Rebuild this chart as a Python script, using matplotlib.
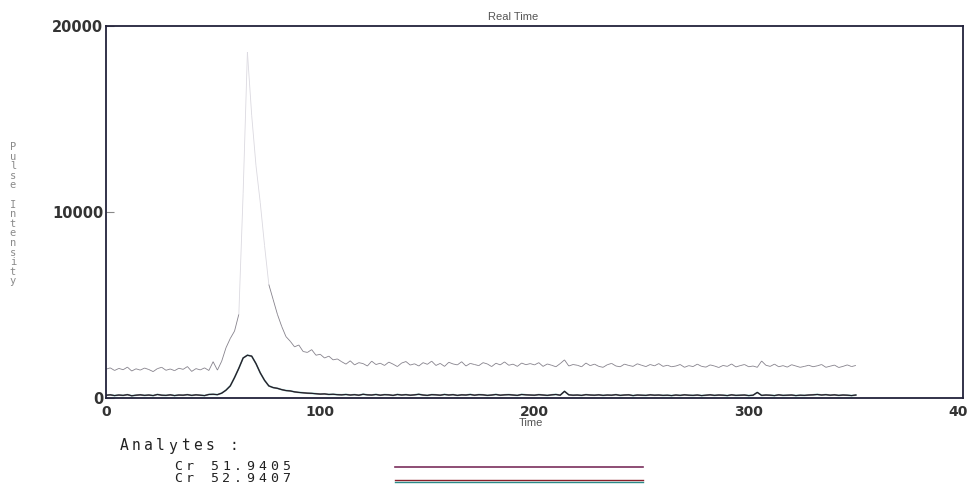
import numpy as np
import matplotlib.pyplot as plt
from matplotlib.collections import LineCollection

# Cr isotope transient signal, pulse counts sampled every 2 s (t = 0 .. 350)
time_step = 2

cr52_counts = [
    # 0 - 48 s, baseline
    1550, 1620, 1480, 1590, 1520, 1660, 1450, 1570, 1500, 1610, 1530, 1420, 1580,
    1650, 1490, 1560, 1470, 1600, 1540, 1690, 1430, 1580, 1510, 1620, 1480,
    # 50 - 108 s, peak and tail
    1950, 1500, 1980, 2700, 3200, 3600, 4500, 11000, 18600, 15200, 12500, 10500,
    8200, 6100, 5300, 4500, 3850, 3300, 3050, 2750, 2850, 2500, 2450, 2600, 2300,
    2350, 2150, 2250, 2050, 2100,
    # 110 - 198 s
    1950, 1820, 2000, 1780, 1900, 1850, 1720, 1980, 1800, 1870, 1750, 1930, 1820,
    1690, 1880, 1960, 1770, 1840, 1720, 1900, 1810, 1980, 1750, 1860, 1700, 1920,
    1830, 1780, 1950, 1720, 1860, 1800, 1740, 1900, 1830, 1690, 1870, 1780, 1940,
    1760, 1820, 1700, 1880, 1790, 1850,
    # 200 - 260 s
    1780, 1900, 1700, 1830, 1760, 1680, 1850, 2050, 1720, 1800, 1760, 1680, 1880,
    1740, 1820, 1700, 1650, 1790, 1860, 1720, 1680, 1820, 1750, 1700, 1840, 1760,
    1690, 1800, 1730, 1850, 1700,
    # 262 - 350 s
    1760, 1680, 1720, 1800, 1650, 1740, 1690, 1820, 1700, 1660, 1780, 1720, 1640,
    1750, 1700, 1830, 1670, 1740, 1800, 1680, 1720, 1650, 1990, 1760, 1700, 1820,
    1680, 1740, 1660, 1790, 1720, 1650, 1700, 1760, 1680, 1730, 1800, 1650, 1710,
    1770, 1640, 1700, 1780, 1690, 1750,
]

cr53_counts = [
    150, 170, 130, 160, 140, 180, 120, 150, 170, 140, 160, 130, 190, 150, 140, 170,
    130, 160, 150, 180, 140, 170, 150, 130, 190,
    200, 180, 260, 420, 650, 1100, 1600, 2150, 2300, 2250, 1850, 1350, 950, 650,
    560, 520, 450, 400, 380, 330, 300, 280, 260, 250, 230, 210, 220, 190, 200, 180,
    170, 190, 160, 180, 150, 200, 170, 160, 190, 150, 180, 170, 140, 190, 160, 180,
    150, 170, 200, 160, 140, 180, 170, 150, 190, 160, 180, 140, 170, 160, 190, 150,
    180, 170, 140, 160, 190, 150, 170, 180, 160, 140, 190, 170, 160,
    150, 180, 160, 140, 170, 190, 150, 360, 170, 150, 160, 140, 180, 160, 150, 170,
    140, 160, 150, 180, 140, 160, 170, 130, 160, 150, 140, 170, 150, 160, 140,
    150, 130, 160, 140, 170, 150, 140, 160, 130, 150, 170, 140, 160, 150, 130, 170,
    140, 150, 160, 130, 150, 300, 140, 160, 150, 130, 170, 140, 150, 160, 130, 150,
    140, 160, 170, 190, 160, 180, 150, 170, 140, 160, 150, 130, 160,
]

analytes = ["Cr 51.9405", "Cr 52.9407"]
x_ticks = [0, 100, 200, 300, 400]
y_ticks = [0, 10000, 20000]

t = time_step * np.arange(len(cr52_counts))

W, H = 968, 487
fig = plt.figure(figsize=(W / 100, H / 100), dpi=100)
ax = fig.add_axes([106 / W, 1 - 398 / H, (963 - 106) / W, (398 - 26) / H])

# upper trace: steep segments print very faintly
y52 = np.asarray(cr52_counts, dtype=float)
pts = np.column_stack([t, y52])
segs = np.stack([pts[:-1], pts[1:]], axis=1)
steep = np.abs(np.diff(y52)) > 1500
seg_colors = np.where(steep[:, None], [[0.86, 0.85, 0.88, 1.0]], [[0.37, 0.35, 0.40, 0.75]])
ax.add_collection(LineCollection(segs, colors=seg_colors, linewidths=0.6))

# lower trace, two overlapping pens
ax.plot(t, cr53_counts, color="#3aa09a", lw=1.3, alpha=0.6)
ax.plot(t, cr53_counts, color="#8a2030", lw=0.8, alpha=0.6)
ax.plot(t, cr53_counts, color="#1e1e28", lw=0.8)

ax.set_xlim(0, 400)
ax.set_ylim(0, 20000)
ax.set_xticks(x_ticks)
ax.set_yticks(y_ticks)
ax.set_xticklabels([str(v) for v in x_ticks], fontsize=10, fontweight="bold",
                   color="#333333", family="DejaVu Sans")
ax.set_yticklabels([str(v) for v in y_ticks], fontsize=10.5, fontweight="bold",
                   color="#333333", family="DejaVu Sans")
ax.tick_params(axis="x", length=0, pad=5)
ax.tick_params(axis="y", direction="in", length=6, width=0.8, color="#888888", pad=2)
for s in ax.spines.values():
    s.set_color("#22223a")
    s.set_linewidth(1.3)

fig.text(513 / W, 1 - 17 / H, "Real Time", ha="center", va="center",
         fontsize=8, color="#555555", family="Liberation Sans")
fig.text(531 / W, 1 - 423 / H, "Time", ha="center", va="center",
         fontsize=8, color="#555555", family="Liberation Sans")


def fixed_pitch(x0, y0, s, pitch, **kw):
    # place characters one by one on a fixed pitch (in pixels)
    for i, ch in enumerate(s):
        fig.text((x0 + i * pitch) / W, 1 - y0 / H, ch, ha="center", va="center", **kw)


# stacked y label
ylab = "Pulse Intensity"
for i, ch in enumerate(ylab):
    fig.text(13 / W, 1 - (147 + i * 9.6) / H, ch, ha="center", va="center",
             fontsize=7.5, color="#8a8a8a", family="DejaVu Sans Mono")

# analyte key
fixed_pitch(124, 446, "Analytes :", 12.2, fontsize=10.5, color="#222222",
            family="DejaVu Sans Mono")
key = dict(fontsize=9.5, color="#222222", family="DejaVu Sans Mono")
fixed_pitch(178, 466, analytes[0], 12.0, **key)
fixed_pitch(178, 478, analytes[1], 12.0, **key)

fig.add_artist(plt.Line2D([395 / W, 643 / W], [1 - 467 / H] * 2, color="#7a2f5c", lw=1.2))
fig.add_artist(plt.Line2D([395 / W, 643 / W], [1 - 480 / H] * 2, color="#8a1f2a", lw=1.0))
fig.add_artist(plt.Line2D([395 / W, 643 / W], [1 - 482 / H] * 2, color="#2a8a88", lw=1.0))

fig.savefig("out.png", dpi=100)
